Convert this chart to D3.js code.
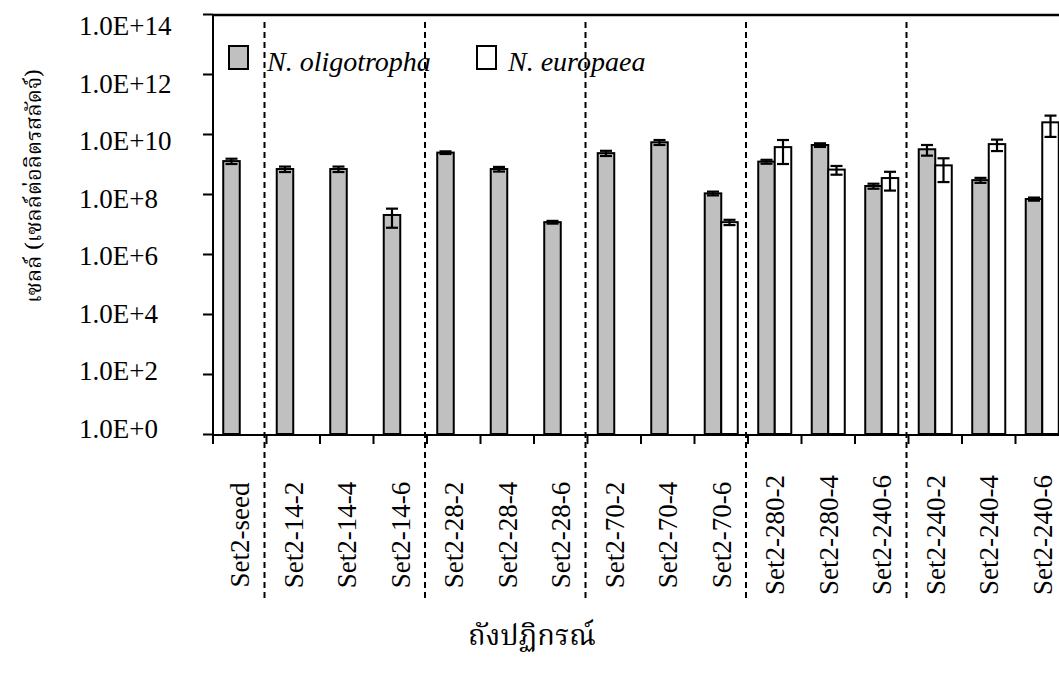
<!DOCTYPE html>
<html>
<head>
<meta charset="utf-8">
<script src="https://cdn.jsdelivr.net/npm/d3@7"></script>
<style>
	body { margin: 0; background: #fff; }
	text { font-family: "Liberation Serif", serif; fill: #000; }
	.thai { font-family: "Norasi", "Noto Serif Thai", "Noto Sans Thai", "Liberation Serif", serif; }
</style>
</head>
<body>
<div id="chart"></div>
<script>
// reactor samples (two are named Set2-240-6 in the source, so index is used as key)
var categories = ["Set2-seed", "Set2-14-2", "Set2-14-4", "Set2-14-6", "Set2-28-2", "Set2-28-4", "Set2-28-6",
	"Set2-70-2", "Set2-70-4", "Set2-70-6", "Set2-280-2", "Set2-280-4", "Set2-240-6",
	"Set2-240-2", "Set2-240-4", "Set2-240-6"];
var seriesNames = ["N. oligotropha", "N. europaea"];
// cells per litre of sludge
var oligotropha = [1.25e9, 6.8e8, 6.8e8, 2.0e7, 2.4e9, 6.8e8, 1.15e7, 2.3e9, 5.3e9, 1.05e8, 1.2e9, 4.3e9, 1.85e8, 3.1e9, 2.9e8, 6.8e7];
var oligotrophaErr = [2.5e8, 1.4e8, 1.4e8, 1.25e7, 2.4e8, 1.2e8, 1.2e6, 4.5e8, 1.0e9, 1.5e7, 1.8e8, 6.0e8, 3.5e7, 1.2e9, 5.5e7, 8.0e6];
var europaea = [1, 1, 1, 1, 1, 1, 1, 1, 1, 1.15e7, 3.65e9, 6.5e8, 3.4e8, 9.0e8, 4.6e9, 2.45e10];
var europaeaErr = [0, 0, 0, 0, 0, 0, 0, 0, 0, 2.3e6, 2.65e9, 2.1e8, 2.1e8, 6.5e8, 1.9e9, 1.65e10];
var yTicks = [1e0, 1e2, 1e4, 1e6, 1e8, 1e10, 1e12, 1e14];
var groupEnds = [0, 3, 6, 9, 12];
var yTitle = "เซลล์ (เซลล์ต่อลิตรสลัดจ์)";
var xTitle = "ถังปฏิกรณ์";

(function() {
	var W = 1059, H = 680;
	var mLeft = 213, mRight = 1069, mTop = 14, mBottom = 434;

	var svg = d3.select("#chart").append("svg")
		.attr("width", W)
		.attr("height", H);

	var x = d3.scaleBand()
		.domain(d3.range(categories.length))
		.range([mLeft, mRight]);

	var x1 = d3.scaleBand()
		.domain([0, 1])
		.range([0, x.bandwidth()])
		.paddingOuter(0.62);

	var y = d3.scaleLog()
		.domain([1, 1e14])
		.range([mBottom, mTop]);

	// Excel spaced the tick labels slightly tighter than the ticks
	var labelY = d3.scaleLinear()
		.domain([0, 14])
		.range([428, 25]);

	// dashed separators between reactor groups
	svg.selectAll(".sep")
		.data(groupEnds)
		.enter().append("line")
		.attr("class", "sep")
		.attr("x1", function(d) { return x(d) + x.bandwidth() - 2; })
		.attr("x2", function(d) { return x(d) + x.bandwidth() - 2; })
		.attr("y1", 22)
		.attr("y2", 601)
		.attr("stroke", "#000")
		.attr("stroke-width", 2)
		.attr("stroke-dasharray", "6,4");

	// bars
	var rows = categories.map(function(c, i) {
		return [
			{i: i, s: 0, v: oligotropha[i], e: oligotrophaErr[i]},
			{i: i, s: 1, v: europaea[i], e: europaeaErr[i]}
		];
	});

	var grp = svg.selectAll(".cat")
		.data(rows)
		.enter().append("g")
		.attr("class", "cat")
		.attr("transform", function(d, i) { return "translate(" + x(i) + ",0)"; });

	grp.selectAll("rect")
		.data(function(d) { return d; })
		.enter().append("rect")
		.attr("x", function(d) { return x1(d.s); })
		.attr("width", x1.bandwidth())
		.attr("y", function(d) { return y(d.v); })
		.attr("height", function(d) { return mBottom - y(d.v); })
		.attr("fill", function(d) { return d.s === 0 ? "#c0c0c0" : "#fff"; })
		.attr("stroke", "#000")
		.attr("stroke-width", 2);

	// error bars
	var errs = grp.selectAll(".err")
		.data(function(d) { return d.filter(function(p) { return p.e > 0; }); })
		.enter().append("g")
		.attr("class", "err")
		.attr("stroke", "#000")
		.attr("stroke-width", 2.2);

	errs.append("line")
		.attr("x1", function(d) { return x1(d.s) + x1.bandwidth() / 2; })
		.attr("x2", function(d) { return x1(d.s) + x1.bandwidth() / 2; })
		.attr("y1", function(d) { return y(d.v + d.e); })
		.attr("y2", function(d) { return y(d.v - d.e); });

	[1, -1].forEach(function(sign) {
		errs.append("line")
			.attr("x1", function(d) { return x1(d.s) + x1.bandwidth() / 2 - 6; })
			.attr("x2", function(d) { return x1(d.s) + x1.bandwidth() / 2 + 6; })
			.attr("y1", function(d) { return y(d.v + sign * d.e); })
			.attr("y2", function(d) { return y(d.v + sign * d.e); });
	});

	// axes
	svg.append("line")
		.attr("x1", mLeft).attr("x2", W)
		.attr("y1", mTop + 1).attr("y2", mTop + 1)
		.attr("stroke", "#000").attr("stroke-width", 2.5);

	var yAxis = svg.append("g")
		.attr("transform", "translate(" + mLeft + ",0)")
		.call(d3.axisLeft(y).tickValues(yTicks).tickSize(10).tickSizeOuter(0)
			.tickFormat(function(d) { return "1.0E+" + Math.round(Math.log10(d)); }));
	yAxis.select(".domain").attr("stroke-width", 2).attr("d", "M0," + mTop + "V440");
	yAxis.selectAll(".tick line").attr("stroke-width", 2);
	yAxis.selectAll(".tick text")
		.attr("text-anchor", "start")
		.attr("x", 79 - mLeft)
		.attr("dy", "0.35em")
		.attr("y", function(d) { return labelY(Math.log10(d)) - y(d); })
		.style("font-size", "27px");

	var xAxis = svg.append("g")
		.attr("transform", "translate(0," + (mBottom + 1) + ")")
		.call(d3.axisBottom(x).tickSize(0).tickFormat(function(i) { return categories[i]; }));
	xAxis.select(".domain").attr("stroke-width", 2).attr("d", "M" + mLeft + ",0H" + W);
	xAxis.selectAll(".tick text")
		.attr("transform", "rotate(-90)")
		.attr("text-anchor", "middle")
		.attr("x", -(535 - mBottom - 1))
		.attr("y", 0)
		.attr("dy", "0.36em")
		.style("font-size", "27px");

	// tick marks on category boundaries
	xAxis.selectAll(".bnd")
		.data(d3.range(categories.length))
		.enter().append("line")
		.attr("class", "bnd")
		.attr("x1", function(i) { return x(i); })
		.attr("x2", function(i) { return x(i); })
		.attr("y1", 0).attr("y2", 9)
		.attr("stroke", "#000").attr("stroke-width", 2);

	// legend
	var legend = svg.append("g");
	var legX = [229, 477];
	seriesNames.forEach(function(name, k) {
		legend.append("rect")
			.attr("x", legX[k]).attr("y", 46)
			.attr("width", 19).attr("height", 23)
			.attr("fill", k === 0 ? "#c0c0c0" : "#fff")
			.attr("stroke", "#000").attr("stroke-width", 2);
		legend.append("text")
			.attr("x", legX[k] + (k === 0 ? 38 : 31))
			.attr("y", 71)
			.style("font-size", "28px")
			.style("font-style", "italic")
			.text(name);
	});

	// titles
	svg.append("text")
		.attr("class", "thai")
		.attr("transform", "translate(33,186) rotate(-90)")
		.attr("text-anchor", "middle")
		.attr("dy", "0.35em")
		.style("font-size", "22px")
		.text(yTitle);

	svg.append("text")
		.attr("class", "thai")
		.attr("x", 532)
		.attr("y", 645)
		.attr("text-anchor", "middle")
		.style("font-size", "29px")
		.text(xTitle);
})();
</script>
</body>
</html>
